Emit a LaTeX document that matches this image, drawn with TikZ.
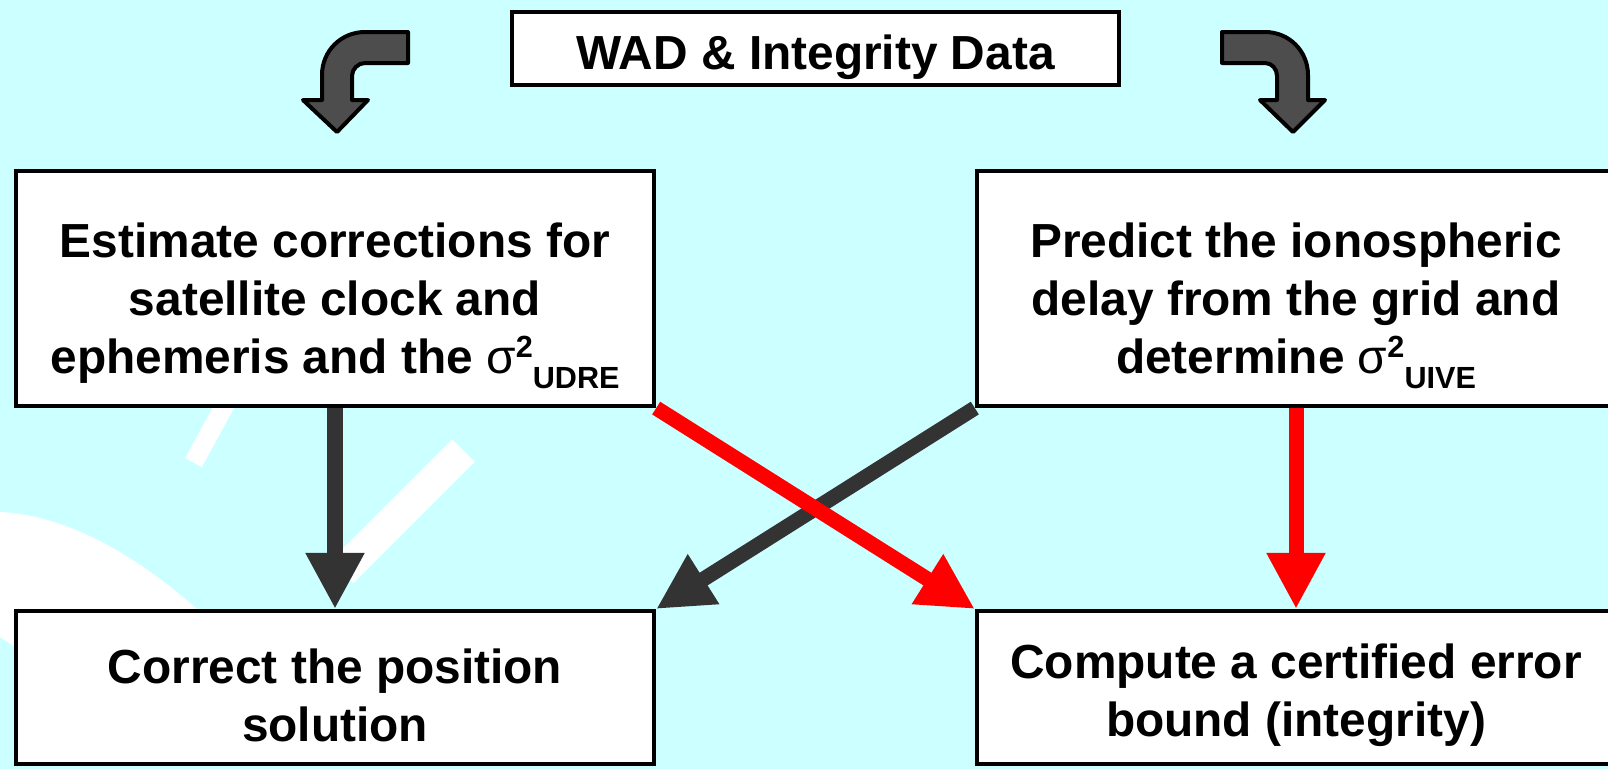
\documentclass[tikz,border=0pt]{standalone}
\usepackage{fontspec}
\setmainfont{Liberation Sans}
\usetikzlibrary{arrows.meta}
\usepackage{xcolor}

\definecolor{skycyan}{HTML}{CCFFFF}
\definecolor{shaftgrey}{HTML}{333333}
\definecolor{bendgrey}{HTML}{4D4D4D}

% sigma squared with a subscript set after the 2
\newcommand{\sigsq}[1]{{\mdseries σ}\raisebox{4.3pt}{\fontsize{8.7}{8.7}\selectfont 2}\raisebox{-4.3pt}{\fontsize{8.7}{8.7}\selectfont #1}}
% invisible strut to push the first line down a little
\newcommand{\firstline}[1]{\rule{0pt}{#1}}

\begin{document}
\begin{tikzpicture}[x=0.01cm, y=-0.01cm,
	box/.style={draw=black, fill=white, line width=0.04cm, inner sep=0pt, align=center,
		font=\fontsize{13.6}{16.5}\selectfont\bfseries},
	bigbox/.style={box, minimum width=6.38cm, minimum height=2.35cm},
	lowbox/.style={box, minimum width=6.38cm, minimum height=1.53cm},
	fatarrow/.style={line width=0.15cm, -{Triangle[length=0.56cm, width=0.55cm]}},
	bentarrow/.style={fill=bendgrey, draw=black, line width=0.04cm, line join=round}]
		\useasboundingbox (0,0) rectangle (1608,769);
		\clip (0,0) rectangle (1608,769);
		\fill[skycyan] (0,0) rectangle (1608,769);
		
		% white shapes behind the boxes
		\fill[white] (0,512) .. controls (70,515) and (150,560) .. (230,640) -- (20,650) -- (0,637) -- cycle;
		\draw[white, line width=0.19cm] (193.5,462.5) -- (232,392);
		\draw[white, line width=0.32cm] (463.5,450.5) -- (342,572);
		
		% bent arrows beside the data box
		\filldraw[bentarrow] (408,32) -- (365,32) .. controls (341,32) and (322,51) .. (322,75)
			-- (322,100) -- (303,100) -- (337,132) -- (368,100) -- (352,100) -- (352,76)
			.. controls (352,69) and (358,63) .. (365,63) -- (408,63) -- cycle;
		\filldraw[bentarrow] (1222,32) -- (1265,32) .. controls (1289,32) and (1308,51) .. (1308,75)
			-- (1308,100) -- (1325,100) -- (1293,132) -- (1260,100) -- (1277,100) -- (1277,76)
			.. controls (1277,69) and (1272,63) .. (1265,63) -- (1222,63) -- cycle;
		
		\draw (815.5,48.5) node[box, minimum width=6.07cm, minimum height=0.73cm] (wad) {\firstline{14.6pt}WAD \& Integrity Data}
		(335,288.5) node[bigbox] (estimate) {\firstline{19.5pt}Estimate corrections for\\satellite clock and\\ephemeris and the \sigsq{UDRE}}
		(1296,288.5) node[bigbox] (predict) {\firstline{19.5pt}Predict the ionospheric\\delay from the grid and\\determine \sigsq{UIVE}}
		(335,687.5) node[lowbox] (correct) {\firstline{14.5pt}Correct the position\\solution}
		(1296,687.5) node[lowbox] (compute) {\firstline{14.5pt}Compute a certified error\\bound (integrity)};
		
		\draw[fatarrow, shaftgrey] (estimate.south) -- (correct.north);
		\draw[fatarrow, shaftgrey] (predict.south west) -- (correct.north east);
		\draw[fatarrow, red] (estimate.south east) -- (compute.north west);
		\draw[fatarrow, red] (predict.south) -- (compute.north);
	\end{tikzpicture}
\end{document}
